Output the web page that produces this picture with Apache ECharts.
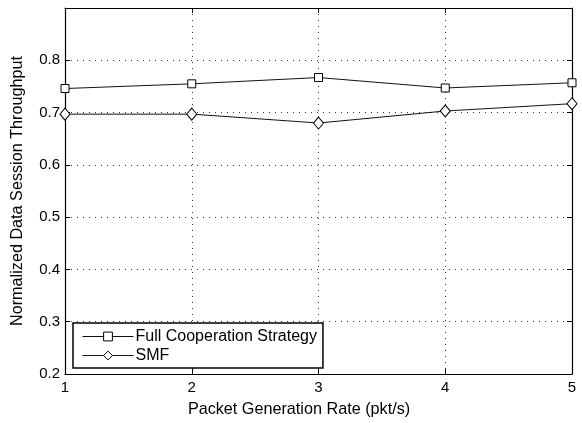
<!DOCTYPE html>
<html>
<head>
<meta charset="utf-8">
<script src="https://cdn.jsdelivr.net/npm/echarts@6/dist/echarts.min.js"></script>
<style>
  html, body { margin: 0; padding: 0; background: #fff; }
  #chart { width: 582px; height: 423px; }
</style>
</head>
<body>
<div id="chart"></div>
<script>
// Packet generation rates (x) and normalized throughput for each strategy
const rates = [1, 2, 3, 4, 5];
const fullCooperation = [0.746, 0.755, 0.767, 0.747, 0.757];
const smf = [0.697, 0.697, 0.680, 0.703, 0.717];
const seriesNames = ['Full Cooperation Strategy', 'SMF'];

const FONT = '"Liberation Sans", Arial, Helvetica, sans-serif';
const diamond = 'path://M0,-1L1,0L0,1L-1,0Z';

const pair = (xs, ys) => xs.map((x, i) => [x, ys[i]]);

const gridLine = { show: true, lineStyle: { color: '#333', type: [1, 5], width: 1 } };
const boxAxisLine = { show: true, lineStyle: { color: '#000', width: 1.2 } };
const inTick = { show: true, inside: true, length: 5, lineStyle: { color: '#000' } };

const chart = echarts.init(document.getElementById('chart'));
chart.setOption({
  animation: false,
  backgroundColor: '#fff',
  grid: { left: 65, right: 10, top: 8, bottom: 46.5 },
  xAxis: [{
    type: 'value', min: 1, max: 5, interval: 1,
    name: 'Packet Generation Rate (pkt/s)', nameLocation: 'middle', nameGap: 28,
    nameTextStyle: { fontFamily: FONT, fontSize: 16.2, color: '#000', padding: [0, 39, 0, 0] },
    axisLine: boxAxisLine, axisTick: inTick, splitLine: gridLine,
    axisLabel: { fontFamily: FONT, fontSize: 15, color: '#000', margin: 6 }
  }, {
    type: 'value', min: 1, max: 5, interval: 1, position: 'top',
    axisLine: boxAxisLine, axisTick: inTick, splitLine: { show: false },
    axisLabel: { show: false }
  }],
  yAxis: [{
    type: 'value', min: 0.2, max: 0.9, interval: 0.1,
    name: 'Normalized Data Session Throughput', nameLocation: 'middle', nameGap: 39,
    nameTextStyle: { fontFamily: FONT, fontSize: 16.2, color: '#000' },
    axisLine: boxAxisLine, axisTick: inTick, splitLine: gridLine,
    axisLabel: {
      fontFamily: FONT, fontSize: 15, color: '#000', margin: 5,
      showMaxLabel: false,
      formatter: v => v.toFixed(1)
    }
  }, {
    type: 'value', min: 0.2, max: 0.9, interval: 0.1, position: 'right',
    axisLine: boxAxisLine, axisTick: inTick, splitLine: { show: false },
    axisLabel: { show: false }
  }],
  legend: {
    orient: 'vertical', left: 73, top: 323,
    backgroundColor: '#fff', borderColor: '#000', borderWidth: 1.5, borderRadius: 0,
    padding: [4, 6, 3, 9], itemGap: 0, itemWidth: 51, itemHeight: 11,
    lineStyle: { width: 1, color: '#111' },
    itemStyle: { borderWidth: 1, borderColor: '#000', color: '#fff' },
    textStyle: { fontFamily: FONT, fontSize: 16, lineHeight: 19, color: '#000', padding: [0, 0, 0, -3] },
    data: seriesNames
  },
  series: [{
    name: seriesNames[0], type: 'line', data: pair(rates, fullCooperation),
    symbol: 'rect', symbolSize: 8, z: 3,
    lineStyle: { color: '#111', width: 1 },
    itemStyle: { color: '#fff', borderColor: '#000', borderWidth: 1 }
  }, {
    name: seriesNames[1], type: 'line', data: pair(rates, smf),
    symbol: diamond, symbolSize: [10, 12], z: 3,
    lineStyle: { color: '#111', width: 1 },
    itemStyle: { color: '#fff', borderColor: '#000', borderWidth: 1 }
  }]
});
</script>
</body>
</html>
